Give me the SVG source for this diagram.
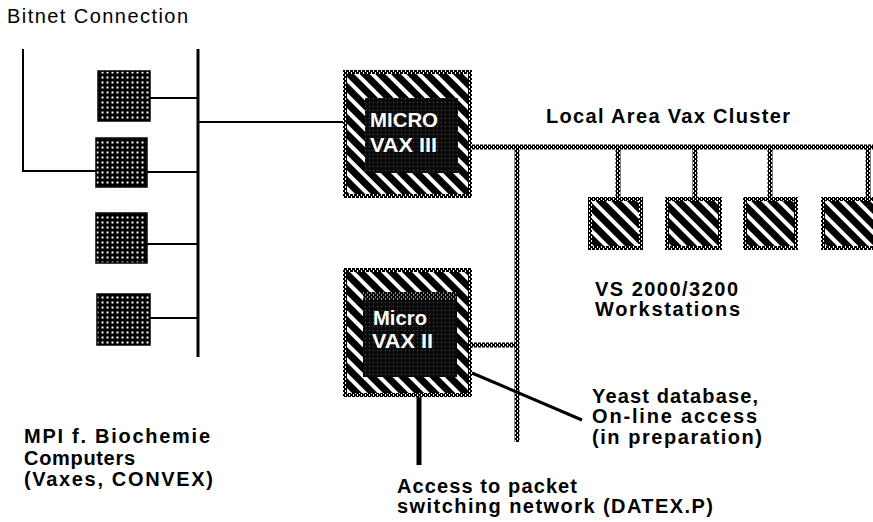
<svg xmlns="http://www.w3.org/2000/svg" width="873" height="522" viewBox="0 0 873 522">
<defs>
<pattern id="checker" width="4" height="4" patternUnits="userSpaceOnUse">
<rect width="4" height="4" fill="#fff"/>
<rect x="0" y="0" width="3" height="2" fill="#000"/>
<rect x="2" y="2" width="2" height="2" fill="#000"/>
<rect x="0" y="2" width="1" height="2" fill="#000"/>
</pattern>
<pattern id="dots" width="5" height="5" patternUnits="userSpaceOnUse">
<rect width="5" height="5" fill="#000"/>
<rect x="1.5" y="1.5" width="2" height="2" fill="#fff"/>
</pattern>
<pattern id="stripes" width="11" height="11" patternUnits="userSpaceOnUse" patternTransform="rotate(-45)">
<rect width="11" height="11" fill="#000"/>
<rect width="4" height="11" fill="#fff"/>
</pattern>
<pattern id="darkgrain" width="4" height="4" patternUnits="userSpaceOnUse">
<rect width="4" height="4" fill="#0a0a0a"/>
<rect x="1" y="2" width="1" height="1" fill="#555"/>
</pattern>
</defs>
<style>
text { font-family: "Liberation Sans", Arial, sans-serif; font-size: 20px; fill: #000; }
.b { font-weight: bold; }
.w { fill: #fff; font-weight: bold; }
.solid { stroke: #000; fill: none; }
.lan { stroke: url(#checker); stroke-width: 5; fill: none; }
.mpi { fill: url(#dots); stroke: #000; stroke-width: 1.5; }
.edge { fill: url(#checker); }
.hatch { fill: url(#stripes); }
.core { fill: url(#darkgrain); }
</style>

<g id="connectors">
<polyline class="solid" stroke-width="2" points="23,49 23,171 96,171"/>
<line class="solid" stroke-width="3" x1="198" y1="49" x2="198" y2="357"/>
<line class="solid" stroke-width="2" x1="150" y1="98" x2="198" y2="98"/>
<line class="solid" stroke-width="2" x1="147" y1="172" x2="198" y2="172"/>
<line class="solid" stroke-width="2" x1="147" y1="244" x2="198" y2="244"/>
<line class="solid" stroke-width="2" x1="150" y1="318" x2="198" y2="318"/>
<line class="solid" stroke-width="2" x1="198" y1="122" x2="343" y2="122"/>
<line class="lan" x1="472" y1="147" x2="873" y2="147"/>
<line class="lan" x1="517" y1="147" x2="517" y2="442"/>
<line class="lan" x1="472" y1="345" x2="517" y2="345"/>
<line class="lan" x1="618" y1="147" x2="618" y2="197"/>
<line class="lan" x1="695" y1="147" x2="695" y2="197"/>
<line class="lan" x1="770" y1="147" x2="770" y2="197"/>
<line class="lan" x1="868" y1="147" x2="868" y2="197"/>
<line class="solid" stroke-width="5" x1="419" y1="397" x2="419" y2="465"/>
<line class="solid" stroke-width="3" x1="472" y1="373" x2="582" y2="420"/>
</g>

<g id="mpi-computers">
<rect class="mpi" x="98" y="71" width="52" height="50"/>
<rect class="mpi" x="96" y="138" width="51" height="49"/>
<rect class="mpi" x="96" y="213" width="51" height="50"/>
<rect class="mpi" x="97" y="294" width="53" height="51"/>
</g>

<g id="microvax-3">
<rect class="edge" x="343" y="70" width="129" height="128"/>
<rect class="hatch" x="347" y="74" width="121" height="120"/>
<rect class="core" x="365" y="98" width="93" height="75"/>
<text class="w" x="370" y="127" textLength="68" lengthAdjust="spacingAndGlyphs">MICRO</text>
<text class="w" x="370" y="152" textLength="67" lengthAdjust="spacingAndGlyphs">VAX III</text>
</g>

<g id="microvax-2">
<rect class="edge" x="343" y="268" width="129" height="129"/>
<rect class="hatch" x="347" y="272" width="121" height="121"/>
<rect class="core" x="363" y="292" width="94" height="85"/>
<rect x="363" y="292" width="94" height="8" fill="url(#checker)" opacity="0.5"/>
<text class="w" x="373" y="325" textLength="54" lengthAdjust="spacingAndGlyphs">Micro</text>
<text class="w" x="372" y="348" textLength="61" lengthAdjust="spacingAndGlyphs">VAX II</text>
</g>

<g id="workstation-1">
<rect class="edge" x="588" y="197" width="55" height="53"/>
<rect class="hatch" x="592" y="201" width="47" height="45"/>
</g>
<g id="workstation-2">
<rect class="edge" x="665" y="197" width="57" height="53"/>
<rect class="hatch" x="669" y="201" width="49" height="45"/>
</g>
<g id="workstation-3">
<rect class="edge" x="743" y="197" width="55" height="53"/>
<rect class="hatch" x="747" y="201" width="47" height="45"/>
</g>
<g id="workstation-4">
<rect class="edge" x="821" y="197" width="56" height="53"/>
<rect class="hatch" x="825" y="201" width="52" height="45"/>
</g>

<g id="labels">
<text x="7" y="23" textLength="181" lengthAdjust="spacing">Bitnet Connection</text>
<text class="b" x="546" y="123" textLength="244" lengthAdjust="spacing">Local Area Vax Cluster</text>
<text class="b" x="595" y="296" textLength="143" lengthAdjust="spacing">VS 2000/3200</text>
<text class="b" x="595" y="316" textLength="145" lengthAdjust="spacing">Workstations</text>
<text class="b" x="592" y="403" textLength="166" lengthAdjust="spacing">Yeast database,</text>
<text class="b" x="592" y="423" textLength="165" lengthAdjust="spacing">On-line access</text>
<text class="b" x="592" y="444" textLength="170" lengthAdjust="spacing">(in preparation)</text>
<text class="b" x="397" y="493" textLength="180" lengthAdjust="spacing">Access to packet</text>
<text class="b" x="397" y="513" textLength="316" lengthAdjust="spacing">switching network (DATEX.P)</text>
<text class="b" x="24" y="443" textLength="186" lengthAdjust="spacing">MPI f. Biochemie</text>
<text class="b" x="24" y="465" textLength="111" lengthAdjust="spacing">Computers</text>
<text class="b" x="24" y="486" textLength="189" lengthAdjust="spacing">(Vaxes, CONVEX)</text>
</g>
</svg>
